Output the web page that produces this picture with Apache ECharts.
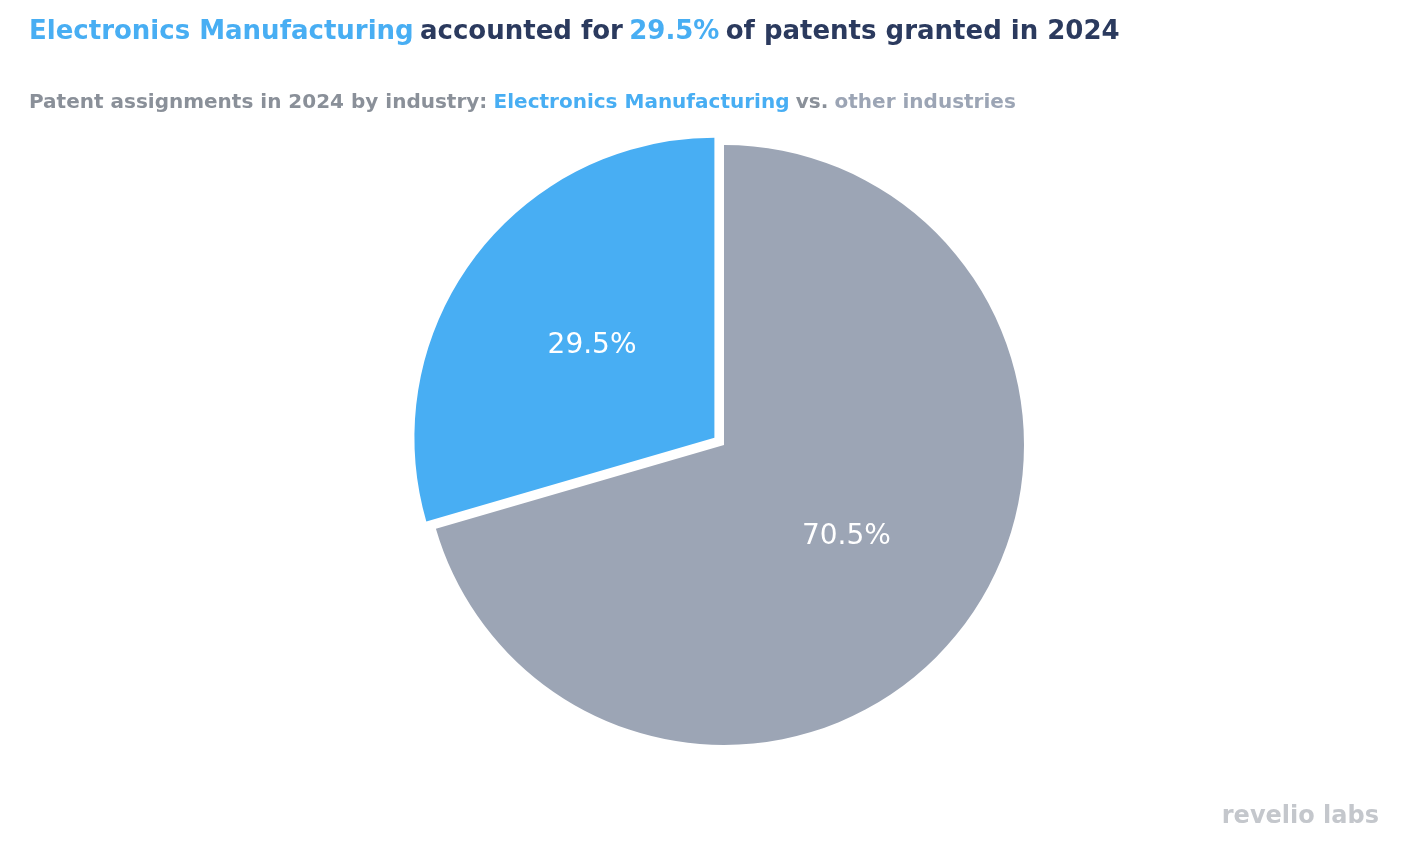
<!DOCTYPE html>
<html><head><meta charset="utf-8">
<script src="https://cdn.jsdelivr.net/npm/echarts@6/dist/echarts.min.js"></script>
<style>html,body{margin:0;padding:0;background:#fff}#c{width:1412px;height:864px}</style>
</head><body><div id="c"></div>
<script>
const categories = ['Other industries', 'Electronics Manufacturing'];
const values = [70.5, 29.5];
const colors = ['#9ca5b5', '#48aef3'];
const chart = echarts.init(document.getElementById('c'));
chart.setOption({
  backgroundColor: '#fff',
  textStyle: { fontFamily: 'DejaVu Sans' },
  title: [{
    left: 24, top: 14,
    text: '{b|Electronics Manufacturing} {d|accounted for} {b|29.5%} {d|of patents granted in 2024}',
    textStyle: { rich: {
      b: { color: '#48aef3', fontSize: 26, fontFamily: 'DejaVu Sans' },
      d: { color: '#2b3a5e', fontSize: 26, fontFamily: 'DejaVu Sans' } } }
  }, {
    left: 24, top: 88,
    text: '{g|Patent assignments in 2024 by industry:} {b|Electronics Manufacturing} {g|vs.} {l|other industries}',
    textStyle: { rich: {
      g: { color: '#8a9099', fontSize: 20, fontFamily: 'DejaVu Sans' },
      b: { color: '#48aef3', fontSize: 20, fontFamily: 'DejaVu Sans' },
      l: { color: '#9ca5b5', fontSize: 20, fontFamily: 'DejaVu Sans' } } }
  }, {
    right: 28, bottom: 30, text: 'revelio labs',
    textStyle: { color: '#c4c7cc', fontSize: 24, fontWeight: 'bold', fontFamily: 'DejaVu Sans' }
  }],
  series: [{
    type: 'pie', center: [724, 445], radius: 300, startAngle: 90, clockwise: true,
    selectedOffset: 12, selectedMode: 'single', animation: false,
    itemStyle: { borderColor: '#fff', borderWidth: 0 },
    label: { position: 'inside', color: '#fff', fontSize: 28, fontFamily: 'DejaVu Sans',
      formatter: p => p.value.toFixed(1) + '%' },
    labelLine: { show: false },
    data: categories.map((c, i) => ({ name: c, value: values[i], selected: i === 1,
      itemStyle: { color: colors[i] } }))
  }]
});
</script></body></html>
